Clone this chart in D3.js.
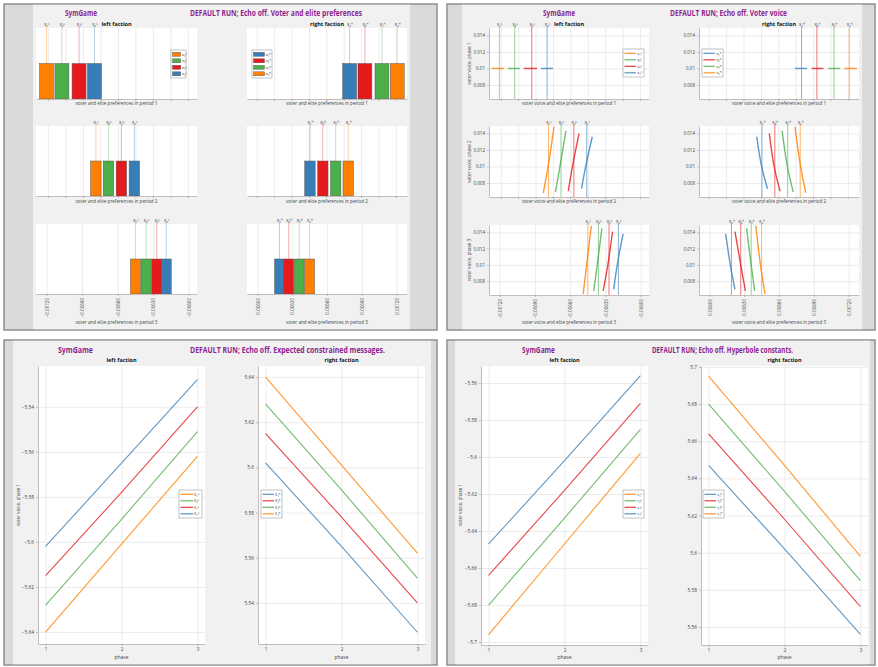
<!DOCTYPE html>
<html>
<head>
<meta charset="utf-8">
<script src="https://cdn.jsdelivr.net/npm/d3@7"></script>
<style>
  body { margin: 0; background: #fff; }
  svg { display: block; }
</style>
</head>
<body>
<script>
// ---------------- data ----------------
const phases = [1, 2, 3]

// colours / labels in legend order
const leftColors = ["#ff7f00", "#4daf4a", "#e41a1c", "#377eb8"]
const rightColors = ["#377eb8", "#e41a1c", "#4daf4a", "#ff7f00"]
const leftPrefLabels = ["x₁ᴸ", "x₂ᴸ", "x₃ᴸ", "x₄ᴸ"]
const rightPrefLabels = ["x₁ᴿ", "x₂ᴿ", "x₃ᴿ", "x₄ᴿ"]
const leftMsgLabels = ["E₁ᴸ", "E₂ᴸ", "E₃ᴸ", "E₄ᴸ"]
const rightMsgLabels = ["E₁ᴿ", "E₂ᴿ", "E₃ᴿ", "E₄ᴿ"]
const leftConstLabels = ["c₁ᴸ", "c₂ᴸ", "c₃ᴸ", "c₄ᴸ"]
const rightConstLabels = ["c₁ᴿ", "c₂ᴿ", "c₃ᴿ", "c₄ᴿ"]

// voter and elite preferences, per period
const leftPrefP1 = [-0.01104, -0.01060, -0.01011, -0.00967]
const leftPrefP2 = [-0.00863, -0.00827, -0.00790, -0.00753]
const leftPrefP3 = [-0.00645, -0.00636, -0.00627, -0.00619]
const rightPrefP1 = [0.00967, 0.01011, 0.01060, 0.01104]
const rightPrefP2 = [0.00753, 0.00790, 0.00827, 0.00863]
const rightPrefP3 = [0.00619, 0.00627, 0.00636, 0.00645]
const barValue = 0.5

// preference axis ranges per period
const leftPrefRange = [[-0.01134, -0.00674], [-0.01034, -0.00574], [-0.00729, -0.00593]]
const rightPrefRange = [[0.00672, 0.01132], [0.00572, 0.01032], [0.00591, 0.00729]]
const leftP3Ticks = [-0.0072, -0.0069, -0.0066, -0.0063, -0.0060]
const rightP3Ticks = [0.0060, 0.0063, 0.0066, 0.0069, 0.0072]

// voter voice curves [preference, voice]
const leftVoiceP1 = [
  [[-0.01127, 0.01], [-0.01090, 0.01]],
  [[-0.01080, 0.01], [-0.01045, 0.01]],
  [[-0.01034, 0.01], [-0.00996, 0.01]],
  [[-0.00985, 0.01], [-0.00950, 0.01]]
]
const rightVoiceP1 = [
  [[0.00948, 0.01], [0.00982, 0.01]],
  [[0.00996, 0.01], [0.01030, 0.01]],
  [[0.01044, 0.01], [0.01078, 0.01]],
  [[0.01090, 0.01], [0.01126, 0.01]]
]
const leftVoiceP2 = [
  [[-0.00878, 0.0068], [-0.00864, 0.0100], [-0.00847, 0.0148]],
  [[-0.00843, 0.0069], [-0.00830, 0.0100], [-0.00813, 0.0143]],
  [[-0.00806, 0.0070], [-0.00794, 0.0100], [-0.00775, 0.0140]],
  [[-0.00768, 0.0073], [-0.00756, 0.0100], [-0.00737, 0.0136]]
]
const rightVoiceP2 = [
  [[0.00738, 0.0136], [0.00752, 0.0100], [0.00769, 0.0073]],
  [[0.00774, 0.0140], [0.00788, 0.0100], [0.00805, 0.0070]],
  [[0.00811, 0.0143], [0.00826, 0.0100], [0.00843, 0.0069]],
  [[0.00848, 0.0148], [0.00864, 0.0100], [0.00879, 0.0068]]
]
const leftVoiceP3 = [
  [[-0.00649, 0.0064], [-0.00646, 0.0100], [-0.00642, 0.0148]],
  [[-0.00640, 0.0068], [-0.00637, 0.0100], [-0.00633, 0.0145]],
  [[-0.00632, 0.0068], [-0.00628, 0.0100], [-0.00624, 0.0141]],
  [[-0.00623, 0.0070], [-0.00620, 0.0100], [-0.00615, 0.0138]]
]
const rightVoiceP3 = [
  [[0.00614, 0.0138], [0.00618, 0.0100], [0.00622, 0.0070]],
  [[0.00622, 0.0141], [0.00627, 0.0100], [0.00631, 0.0068]],
  [[0.00632, 0.0145], [0.00636, 0.0100], [0.00639, 0.0068]],
  [[0.00640, 0.0148], [0.00644, 0.0100], [0.00648, 0.0064]]
]
const voiceRange = [0.0063, 0.0149]
const voiceTicks = [0.008, 0.01, 0.012, 0.014]

// expected constrained messages by phase
const leftMessages = [
  [-5.640, -5.601, -5.562],
  [-5.628, -5.590, -5.551],
  [-5.615, -5.578, -5.540],
  [-5.602, -5.565, -5.528]
]
const rightMessages = [
  [5.602, 5.565, 5.527],
  [5.615, 5.578, 5.540],
  [5.628, 5.590, 5.551],
  [5.640, 5.601, 5.562]
]
const leftMsgRange = [-5.6453, -5.5219]
const rightMsgRange = [5.5218, 5.6449]
const leftMsgTicks = [-5.64, -5.62, -5.6, -5.58, -5.56, -5.54]
const rightMsgTicks = [5.54, 5.56, 5.58, 5.6, 5.62, 5.64]

// hyperbole constants by phase
const leftConsts = [
  [-5.696, -5.647, -5.598],
  [-5.680, -5.633, -5.585],
  [-5.664, -5.618, -5.571],
  [-5.647, -5.602, -5.556]
]
const rightConsts = [
  [5.647, 5.602, 5.556],
  [5.664, 5.618, 5.571],
  [5.680, 5.633, 5.585],
  [5.695, 5.647, 5.598]
]
const leftConstRange = [-5.7016, -5.5508]
const rightConstRange = [5.5503, 5.7005]
const leftConstTicks = [-5.7, -5.68, -5.66, -5.64, -5.62, -5.6, -5.58, -5.56]
const rightConstTicks = [5.56, 5.58, 5.6, 5.62, 5.64, 5.66, 5.68, 5.7]

// ---------------- drawing ----------------
const width = 878, height = 667
const purple = "#8e1f8e"
const gridColor = "#e4e4e4"
const spineColor = "#c6bcbc"
const fmtG = d3.format("~g")
const fmtPref = d3.format(".5f")

const svg = d3.select("body").append("svg")
  .attr("width", width).attr("height", height)
  .style("font-family", "'Open Sans', 'DejaVu Sans', sans-serif")

function frame(x0, y0, x1, y1, fx0, fx1) {
  svg.append("rect").attr("x", x0).attr("y", y0)
    .attr("width", x1 - x0).attr("height", y1 - y0)
    .attr("fill", "#dadada").attr("stroke", "#8f8f8f").attr("stroke-width", 1.5)
  svg.append("rect").attr("x", fx0).attr("y", y0 + 0.75)
    .attr("width", fx1 - fx0).attr("height", y1 - y0 - 1.5)
    .attr("fill", "#f1f1f1")
}

function supTitle(x, y, w, txt) {
  svg.append("text").attr("x", x).attr("y", y)
    .attr("textLength", w).attr("lengthAdjust", "spacingAndGlyphs")
    .attr("fill", purple).attr("font-weight", "bold").attr("font-size", 8.5)
    .text(txt)
}

function makeAxes(x0, x1, y0, y1, xDom, yDom) {
  const g = svg.append("g")
  g.append("rect").attr("x", x0).attr("y", y0)
    .attr("width", x1 - x0).attr("height", y1 - y0).attr("fill", "#fff")
  return {
    g, x0, x1, y0, y1,
    x: d3.scaleLinear().domain(xDom).range([x0, x1]),
    y: d3.scaleLinear().domain(yDom).range([y1, y0])
  }
}

function axTitle(ax, txt, y) {
  ax.g.append("text").attr("x", (ax.x0 + ax.x1) / 2).attr("y", y)
    .attr("text-anchor", "middle").attr("font-size", 5.5).attr("font-weight", "bold")
    .attr("fill", "#111").text(txt)
}

function xLabel(ax, txt, y, size) {
  ax.g.append("text").attr("x", (ax.x0 + ax.x1) / 2).attr("y", y)
    .attr("text-anchor", "middle").attr("font-size", size || 4.6)
    .attr("fill", "#444").text(txt)
}

function yLabel(x, yc, txt) {
  svg.append("text").attr("transform", `translate(${x},${yc}) rotate(-90)`)
    .attr("text-anchor", "middle").attr("font-size", 4.6).attr("fill", "#444").text(txt)
}

function grid(ax, xt, yt) {
  if (xt) {
    ax.g.append("g").attr("transform", `translate(0,${ax.y1})`)
      .call(d3.axisBottom(ax.x).tickValues(xt).tickSize(-(ax.y1 - ax.y0)).tickFormat(""))
      .call(s => s.select(".domain").remove())
      .call(s => s.selectAll("line").attr("stroke", gridColor).attr("stroke-width", 0.7))
  }
  if (yt) {
    ax.g.append("g").attr("transform", `translate(${ax.x0},0)`)
      .call(d3.axisLeft(ax.y).tickValues(yt).tickSize(-(ax.x1 - ax.x0)).tickFormat(""))
      .call(s => s.select(".domain").remove())
      .call(s => s.selectAll("line").attr("stroke", gridColor).attr("stroke-width", 0.7))
  }
}

function styleAxis(a, size) {
  a.attr("font-family", null).attr("font-size", size || 4.5)
  a.select(".domain").attr("stroke", spineColor).attr("stroke-width", 1)
  a.selectAll(".tick line").attr("stroke", "#888").attr("stroke-width", 0.5)
  a.selectAll("text").attr("fill", "#444")
}

function xTicks(ax, tv, fmt, rotate) {
  const a = ax.g.append("g").attr("transform", `translate(0,${ax.y1})`)
    .call(d3.axisBottom(ax.x).tickValues(tv).tickSize(2).tickSizeOuter(0)
      .tickPadding(2).tickFormat(fmt || ""))
  styleAxis(a)
  if (rotate) {
    a.selectAll("text").attr("transform", "rotate(-90)")
      .attr("x", -4).attr("y", 0).attr("dy", "0.35em").attr("text-anchor", "end")
  }
}

function yTicks(ax, tv, size) {
  const a = ax.g.append("g").attr("transform", `translate(${ax.x0},0)`)
    .call(d3.axisLeft(ax.y).tickValues(tv).tickSize(2).tickSizeOuter(0)
      .tickPadding(2).tickFormat(fmtG))
  styleAxis(a, size)
}

function topLabels(ax, prefs, labels) {
  const a = ax.g.append("g").attr("transform", `translate(0,${ax.y0 - 1.5})`)
    .call(d3.axisTop(ax.x).tickValues(prefs).tickSize(0).tickPadding(1)
      .tickFormat((d, i) => labels[i]))
  a.attr("font-family", null).attr("font-size", 4.6)
  a.select(".domain").remove()
  a.selectAll("text").attr("fill", "#333")
}

function prefLines(ax, prefs, colors, opacity) {
  ax.g.append("g").selectAll("line").data(prefs).join("line")
    .attr("x1", d => ax.x(d)).attr("x2", d => ax.x(d))
    .attr("y1", ax.y0 - 2).attr("y2", ax.y1)
    .attr("stroke", (d, i) => colors[i]).attr("stroke-opacity", opacity)
    .attr("stroke-width", 0.8)
}

function legend(x, y, w, colors, labels, kind) {
  const step = 6.5
  const g = svg.append("g").attr("transform", `translate(${x},${y})`)
  g.append("rect").attr("width", w).attr("height", colors.length * step + 2)
    .attr("fill", "#fff").attr("stroke", "#9a9a9a").attr("stroke-width", 0.6)
  const rows = g.selectAll("g.row").data(colors).join("g").attr("class", "row")
    .attr("transform", (d, i) => `translate(1.5,${4.3 + i * step})`)
  const sw = w * 0.55
  if (kind === "patch") {
    rows.append("rect").attr("y", -2).attr("width", sw).attr("height", 4)
      .attr("fill", d => d).attr("stroke", "#555").attr("stroke-width", 0.4)
  } else {
    rows.append("line").attr("x2", sw).attr("stroke", d => d)
      .attr("stroke-width", 1.2).attr("stroke-opacity", 0.85)
  }
  rows.append("text").attr("x", sw + 1.2).attr("dy", "0.35em")
    .attr("font-size", 4).attr("fill", "#333").text((d, i) => labels[i])
}

// ---- panel frames and titles
frame(4, 4, 437, 330, 33, 410)
frame(447, 4, 875, 330, 462, 862)
frame(4, 340, 437, 665, 13, 431)
frame(447, 340, 875, 665, 455, 870)

supTitle(65, 16, 32, "SymGame")
supTitle(190, 16, 172, "DEFAULT RUN; Echo off. Voter and elite preferences")
supTitle(543, 16, 32, "SymGame")
supTitle(670, 16, 117, "DEFAULT RUN; Echo off. Voter voice")
supTitle(58, 353, 35, "SymGame")
supTitle(190, 353, 195, "DEFAULT RUN; Echo off. Expected constrained messages.")
supTitle(522, 353, 33, "SymGame")
supTitle(652, 353, 141, "DEFAULT RUN; Echo off. Hyperbole constants.")

// ---- top-left: voter and elite preferences (bars)
const leftPrefs = [leftPrefP1, leftPrefP2, leftPrefP3]
const rightPrefs = [rightPrefP1, rightPrefP2, rightPrefP3]
const barWidths = [0.0004, 0.0003, 0.000085]
const barRows = [[28, 99], [126, 196], [224, 294]]
const barLabelY = [105, 203, 324]

function barPlot(ax, prefs, colors, labels, bw, ticks, last) {
  grid(ax, ticks, null)
  prefLines(ax, prefs, colors, 0.45)
  ax.g.append("g").selectAll("rect").data(prefs).join("rect")
    .attr("x", d => ax.x(d - bw / 2))
    .attr("width", d => ax.x(d + bw / 2) - ax.x(d - bw / 2))
    .attr("y", ax.y(barValue)).attr("height", ax.y(0) - ax.y(barValue))
    .attr("fill", (d, i) => colors[i]).attr("stroke", "#5a5a5a").attr("stroke-width", 0.5)
  xTicks(ax, ticks, last ? fmtPref : "", last)
  topLabels(ax, prefs, labels)
}

barRows.forEach((r, p) => {
  const axL = makeAxes(36, 197, r[0], r[1], leftPrefRange[p], [0, 1])
  barPlot(axL, leftPrefs[p], leftColors, leftPrefLabels, barWidths[p],
    p < 2 ? axL.x.ticks(8) : leftP3Ticks, p === 2)
  xLabel(axL, `voter and elite preferences in period ${p + 1}`, barLabelY[p])
  const axR = makeAxes(247, 407, r[0], r[1], rightPrefRange[p], [0, 1])
  barPlot(axR, rightPrefs[p], rightColors, rightPrefLabels, barWidths[p],
    p < 2 ? axR.x.ticks(8) : rightP3Ticks, p === 2)
  xLabel(axR, `voter and elite preferences in period ${p + 1}`, barLabelY[p])
  if (p === 0) {
    axTitle(axL, "left  faction", 25.5)
    axTitle(axR, "right faction", 25.5)
  }
})
legend(171, 50, 15, leftColors, leftPrefLabels, "patch")
legend(252, 50, 20, rightColors, rightPrefLabels, "patch")

// ---- top-right: voter voice
const leftVoices = [leftVoiceP1, leftVoiceP2, leftVoiceP3]
const rightVoices = [rightVoiceP1, rightVoiceP2, rightVoiceP3]
const voiceRows = [[28, 99], [126, 197], [225, 295]]
const voiceLabelY = [105, 203, 324]
const voiceLine = ax => d3.line().curve(d3.curveCatmullRom)
  .x(d => ax.x(d[0])).y(d => ax.y(d[1]))

function voicePlot(ax, prefs, curves, colors, labels, ticks, last) {
  grid(ax, ticks, voiceTicks)
  prefLines(ax, prefs, colors, 0.75)
  ax.g.append("g").selectAll("path").data(curves).join("path")
    .attr("d", voiceLine(ax)).attr("fill", "none")
    .attr("stroke", (d, i) => colors[i]).attr("stroke-width", 1.4).attr("stroke-opacity", 0.8)
  xTicks(ax, ticks, last ? fmtPref : "", last)
  yTicks(ax, voiceTicks)
  topLabels(ax, prefs, labels)
}

voiceRows.forEach((r, p) => {
  const axL = makeAxes(489, 649, r[0], r[1], leftPrefRange[p], voiceRange)
  voicePlot(axL, leftPrefs[p], leftVoices[p], leftColors, leftPrefLabels,
    p < 2 ? axL.x.ticks(8) : leftP3Ticks, p === 2)
  xLabel(axL, `voter voice and elite preferences in period ${p + 1}`, voiceLabelY[p])
  yLabel(471, (r[0] + r[1]) / 2, `voter voice, phase ${p + 1}`)
  const axR = makeAxes(699, 859, r[0], r[1], rightPrefRange[p], voiceRange)
  voicePlot(axR, rightPrefs[p], rightVoices[p], rightColors, rightPrefLabels,
    p < 2 ? axR.x.ticks(8) : rightP3Ticks, p === 2)
  xLabel(axR, `voter voice and elite preferences in period ${p + 1}`, voiceLabelY[p])
  if (p === 0) {
    axTitle(axL, "left  faction", 25.5)
    axTitle(axR, "right faction", 25.5)
  }
})
legend(623, 49, 21, leftColors, leftPrefLabels, "line")
legend(702, 49, 21, rightColors, rightPrefLabels, "line")

// ---- bottom panels: lines over phases
function linePlot(ax, series, colors, yt) {
  grid(ax, phases, yt)
  const line = d3.line().x((d, i) => ax.x(phases[i])).y(d => ax.y(d))
  ax.g.append("g").selectAll("path").data(series).join("path")
    .attr("d", line).attr("fill", "none")
    .attr("stroke", (d, i) => colors[i]).attr("stroke-width", 1.1).attr("stroke-opacity", 0.8)
  xTicks(ax, phases, d3.format("d"))
  yTicks(ax, yt, 4.8)
  xLabel(ax, "phase", 659, 5)
}

const msgL = makeAxes(38, 205, 366, 644, [0.9, 3.1], leftMsgRange)
linePlot(msgL, leftMessages, leftColors, leftMsgTicks)
axTitle(msgL, "left  faction", 362)
yLabel(20, 505, "voter voice, phase 1")
const msgR = makeAxes(258, 425, 366, 644, [0.9, 3.1], rightMsgRange)
linePlot(msgR, rightMessages, rightColors, rightMsgTicks)
axTitle(msgR, "right faction", 362)
legend(179, 490, 23, leftColors, leftMsgLabels, "line")
legend(261, 490, 21, rightColors, rightMsgLabels, "line")

const conL = makeAxes(481, 648, 366, 645, [0.9, 3.1], leftConstRange)
linePlot(conL, leftConsts, leftColors, leftConstTicks)
axTitle(conL, "left  faction", 362)
yLabel(462, 505, "voter voice, phase 1")
const conR = makeAxes(701, 868, 366, 645, [0.9, 3.1], rightConstRange)
linePlot(conR, rightConsts, rightColors, rightConstTicks)
axTitle(conR, "right faction", 362)
legend(623, 490, 21, leftColors, leftConstLabels, "line")
legend(703, 490, 21, rightColors, rightConstLabels, "line")
</script>
</body>
</html>
